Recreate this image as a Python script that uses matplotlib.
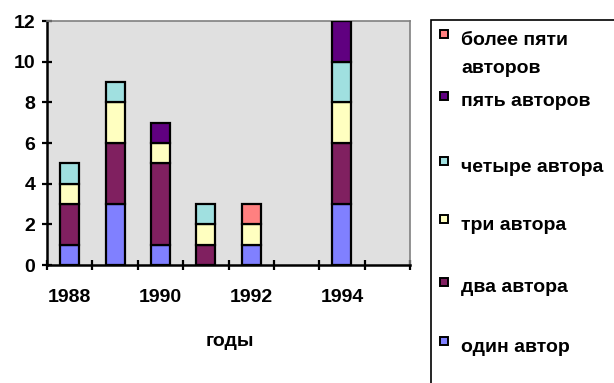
import numpy as np
import matplotlib.pyplot as plt
from matplotlib.patches import Rectangle

plt.rcParams['font.family'] = ['Liberation Sans', 'DejaVu Sans']
plt.rcParams['font.weight'] = 'bold'

years = ['1988', '1989', '1990', '1991', '1992', '1993', '1994', '1995']
series = ['один автор', 'два автора', 'три автора', 'четыре автора',
          'пять авторов', 'более пяти авторов']
one = [1, 3, 1, 0, 1, 0, 3, 0]
two = [2, 3, 4, 1, 0, 0, 3, 0]
three = [1, 2, 1, 1, 1, 0, 2, 0]
four = [1, 1, 0, 1, 0, 0, 2, 0]
five = [0, 0, 1, 0, 0, 0, 2, 0]
more = [0, 0, 0, 0, 1, 0, 0, 0]
colors = ['#8080FF', '#802060', '#FFFFC0', '#A0E0E0', '#600080', '#FF8080']

W, H = 614, 383
fig = plt.figure(figsize=(W / 100, H / 100), dpi=100)
ax = fig.add_axes([47 / W, 1 - 265 / H, 363 / W, 244 / H])
ax.set_facecolor('#E0E0E0')

x = np.arange(len(years))
bottom = np.zeros(len(years))
for vals, col in zip([one, two, three, four, five, more], colors):
    vals = np.array(vals)
    mask = vals > 0
    ax.bar(x[mask], vals[mask], width=0.42, bottom=bottom[mask],
           color=col, edgecolor='black', linewidth=1.6, zorder=3)
    bottom += vals

ax.set_xlim(-0.5, len(years) - 0.5)
ax.set_ylim(0, 12)
ax.set_yticks(range(0, 13, 2))
ax.set_xticks(x[::2])
ax.set_xticklabels(years[::2])
ax.set_xticks(np.arange(-0.5, len(years)), minor=True)
ax.tick_params(axis='x', which='major', length=0, pad=17, labelsize=14)
ax.tick_params(axis='x', which='minor', direction='inout', length=7, width=1.6)
ax.tick_params(axis='y', direction='inout', length=7, width=1.6, labelsize=14, pad=5)
for lab in ax.get_xticklabels() + ax.get_yticklabels():
    lab.set_fontweight('bold')

for side in ['left', 'bottom']:
    ax.spines[side].set_linewidth(1.8)
    ax.spines[side].set_color('black')
for side in ['top', 'right']:
    ax.spines[side].set_linewidth(1.2)
    ax.spines[side].set_color('#808080')

fig.text(230 / W, 1 - 342 / H, 'годы', ha='center', va='center',
         fontsize=14, fontweight='bold')

# легенда справа, рамка уходит за край рисунка
fig.patches.append(Rectangle((431 / W, -0.1), 0.5, 1.1 - 20 / H,
                             transform=fig.transFigure, fill=False,
                             edgecolor='black', linewidth=1.2))
leg_labels = ['более пяти\nавторов', 'пять авторов', 'четыре автора',
              'три автора', 'два автора', 'один автор']
box_y = [34, 96, 161, 219, 282, 341]
base_y = [45, 106, 172, 230, 292, 352]
for lab, col, by, ty in zip(leg_labels, colors[::-1], box_y, base_y):
    fig.patches.append(Rectangle((440 / W, 1 - (by + 4) / H), 8 / W, 8 / H,
                                 transform=fig.transFigure, facecolor=col,
                                 edgecolor='black', linewidth=1.4))
    for i, line in enumerate(lab.split('\n')):
        fig.text(461 / W, 1 - (ty + 28 * i) / H, line, ha='left', va='baseline',
                 fontsize=14, fontweight='bold')

fig.savefig('out.png', dpi=100)
